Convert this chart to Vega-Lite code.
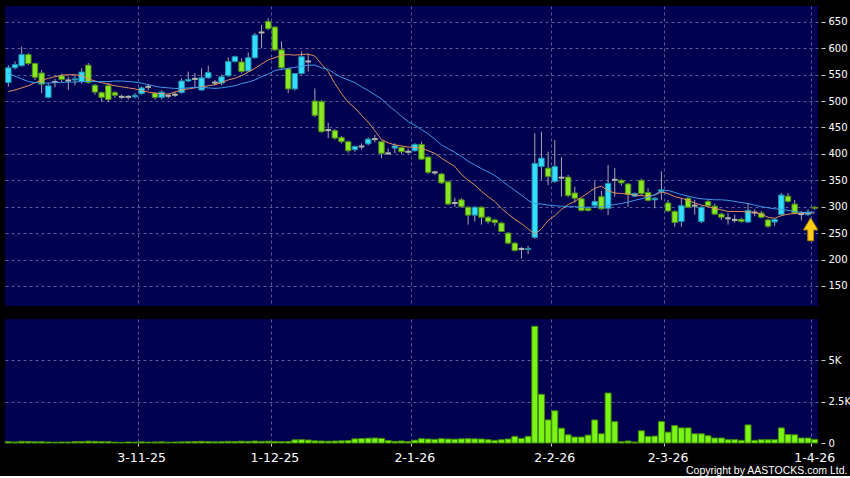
{
  "$schema": "https://vega.github.io/schema/vega-lite/v6.json",
  "background": "#000000",
  "padding": {"left": 4, "top": 6, "right": 0, "bottom": 0},
  "spacing": 13,
  "title": {"text": "Copyright by AASTOCKS.com Ltd.", "orient": "bottom", "anchor": "end", "color": "#ffffff", "fontSize": 10.5, "font": "Liberation Sans", "fontWeight": "normal", "offset": 2, "dx": -3},
  "config": {
    "view": {"fill": "#000050", "stroke": null},
    "axis": {"labelFont": "DejaVu Sans", "labelColor": "#ffffff", "tickColor": "#d0d0d0", "gridColor": "#5c5c98", "gridDash": [3, 3], "gridWidth": 1, "domain": false, "labelOverlap": false}
  },
  "data": {"values": [
    {"date":"2-10-25","open":535,"high":568,"low":527,"close":563,"volume":80,"ma10":518,"ma20":553},
    {"date":"3-10-25","open":563,"high":575,"low":560,"close":569,"volume":60,"ma10":521,"ma20":547},
    {"date":"6-10-25","open":567,"high":603,"low":565,"close":588,"volume":100,"ma10":525,"ma20":542},
    {"date":"8-10-25","open":588,"high":591,"low":568,"close":571,"volume":90,"ma10":529,"ma20":537},
    {"date":"9-10-25","open":571,"high":573,"low":540,"close":545,"volume":70,"ma10":535,"ma20":535},
    {"date":"10-10-25","open":553,"high":559,"low":515,"close":532,"volume":80,"ma10":539,"ma20":534},
    {"date":"13-10-25","open":507,"high":534,"low":505,"close":529,"volume":60,"ma10":543,"ma20":534},
    {"date":"14-10-25","open":536,"high":542,"low":526,"close":536,"volume":50,"ma10":546,"ma20":535},
    {"date":"15-10-25","open":548,"high":552,"low":536,"close":541,"volume":60,"ma10":549,"ma20":535},
    {"date":"16-10-25","open":539,"high":546,"low":521,"close":539,"volume":60,"ma10":550,"ma20":536},
    {"date":"17-10-25","open":540,"high":549,"low":530,"close":542,"volume":80,"ma10":550,"ma20":536},
    {"date":"20-10-25","open":537,"high":562,"low":533,"close":555,"volume":90,"ma10":548,"ma20":537},
    {"date":"21-10-25","open":568,"high":572,"low":533,"close":535,"volume":110,"ma10":542,"ma20":537},
    {"date":"22-10-25","open":530,"high":532,"low":512,"close":517,"volume":100,"ma10":538,"ma20":537},
    {"date":"23-10-25","open":516,"high":518,"low":499,"close":507,"volume":90,"ma10":535,"ma20":537},
    {"date":"24-10-25","open":529,"high":534,"low":498,"close":503,"volume":80,"ma10":532,"ma20":537},
    {"date":"27-10-25","open":516,"high":519,"low":506,"close":511,"volume":50,"ma10":529,"ma20":538},
    {"date":"28-10-25","open":508,"high":512,"low":504,"close":508,"volume":40,"ma10":527,"ma20":538},
    {"date":"30-10-25","open":508,"high":511,"low":503,"close":508,"volume":60,"ma10":525,"ma20":537},
    {"date":"31-10-25","open":508,"high":515,"low":505,"close":511,"volume":50,"ma10":523,"ma20":536},
    {"date":"3-11-25","open":514,"high":528,"low":512,"close":525,"volume":70,"ma10":520,"ma20":534},
    {"date":"4-11-25","open":527,"high":532,"low":520,"close":527,"volume":50,"ma10":517,"ma20":531},
    {"date":"5-11-25","open":515,"high":517,"low":503,"close":507,"volume":60,"ma10":515,"ma20":528},
    {"date":"6-11-25","open":507,"high":520,"low":503,"close":517,"volume":70,"ma10":514,"ma20":526},
    {"date":"7-11-25","open":510,"high":514,"low":505,"close":510,"volume":50,"ma10":513,"ma20":525},
    {"date":"10-11-25","open":512,"high":518,"low":508,"close":512,"volume":60,"ma10":517,"ma20":524},
    {"date":"11-11-25","open":516,"high":543,"low":514,"close":538,"volume":70,"ma10":521,"ma20":524},
    {"date":"12-11-25","open":538,"high":556,"low":536,"close":541,"volume":80,"ma10":523,"ma20":525},
    {"date":"13-11-25","open":542,"high":553,"low":525,"close":542,"volume":90,"ma10":525,"ma20":526},
    {"date":"14-11-25","open":521,"high":562,"low":519,"close":544,"volume":100,"ma10":527,"ma20":526},
    {"date":"17-11-25","open":544,"high":567,"low":542,"close":554,"volume":90,"ma10":529,"ma20":525},
    {"date":"18-11-25","open":535,"high":540,"low":530,"close":535,"volume":70,"ma10":531,"ma20":524},
    {"date":"19-11-25","open":534,"high":550,"low":530,"close":546,"volume":80,"ma10":535,"ma20":525},
    {"date":"20-11-25","open":548,"high":583,"low":546,"close":575,"volume":100,"ma10":540,"ma20":527},
    {"date":"21-11-25","open":575,"high":586,"low":573,"close":584,"volume":90,"ma10":543,"ma20":529},
    {"date":"24-11-25","open":574,"high":581,"low":553,"close":556,"volume":110,"ma10":548,"ma20":533},
    {"date":"25-11-25","open":557,"high":592,"low":555,"close":582,"volume":100,"ma10":555,"ma20":536},
    {"date":"26-11-25","open":582,"high":629,"low":580,"close":625,"volume":120,"ma10":562,"ma20":540},
    {"date":"27-11-25","open":630,"high":644,"low":600,"close":630,"volume":100,"ma10":570,"ma20":546},
    {"date":"28-11-25","open":651,"high":657,"low":634,"close":637,"volume":110,"ma10":578,"ma20":551},
    {"date":"1-12-25","open":640,"high":642,"low":595,"close":597,"volume":90,"ma10":582,"ma20":558},
    {"date":"2-12-25","open":597,"high":613,"low":560,"close":563,"volume":80,"ma10":587,"ma20":560},
    {"date":"3-12-25","open":561,"high":563,"low":515,"close":523,"volume":90,"ma10":588,"ma20":562},
    {"date":"4-12-25","open":523,"high":553,"low":520,"close":552,"volume":190,"ma10":587,"ma20":564},
    {"date":"5-12-25","open":552,"high":594,"low":550,"close":584,"volume":200,"ma10":588,"ma20":566},
    {"date":"8-12-25","open":575,"high":590,"low":556,"close":575,"volume":180,"ma10":589,"ma20":568},
    {"date":"9-12-25","open":500,"high":524,"low":470,"close":473,"volume":130,"ma10":585,"ma20":568},
    {"date":"10-12-25","open":499,"high":502,"low":440,"close":442,"volume":120,"ma10":570,"ma20":563},
    {"date":"11-12-25","open":445,"high":459,"low":430,"close":445,"volume":110,"ma10":556,"ma20":560},
    {"date":"12-12-25","open":444,"high":447,"low":427,"close":430,"volume":120,"ma10":533,"ma20":552},
    {"date":"15-12-25","open":431,"high":434,"low":420,"close":423,"volume":130,"ma10":514,"ma20":545},
    {"date":"16-12-25","open":423,"high":425,"low":402,"close":406,"volume":150,"ma10":498,"ma20":540},
    {"date":"17-12-25","open":408,"high":416,"low":404,"close":414,"volume":250,"ma10":487,"ma20":535},
    {"date":"18-12-25","open":414,"high":420,"low":408,"close":414,"volume":270,"ma10":473,"ma20":527},
    {"date":"19-12-25","open":419,"high":431,"low":416,"close":428,"volume":290,"ma10":460,"ma20":520},
    {"date":"22-12-25","open":428,"high":436,"low":422,"close":428,"volume":300,"ma10":444,"ma20":512},
    {"date":"23-12-25","open":423,"high":425,"low":392,"close":401,"volume":280,"ma10":427,"ma20":504},
    {"date":"24-12-25","open":401,"high":410,"low":398,"close":401,"volume":150,"ma10":421,"ma20":492},
    {"date":"29-12-25","open":411,"high":420,"low":401,"close":415,"volume":100,"ma10":417,"ma20":482},
    {"date":"30-12-25","open":412,"high":414,"low":400,"close":404,"volume":120,"ma10":415,"ma20":471},
    {"date":"31-12-25","open":404,"high":410,"low":400,"close":404,"volume":90,"ma10":413,"ma20":461},
    {"date":"2-1-26","open":406,"high":420,"low":404,"close":418,"volume":170,"ma10":412,"ma20":454},
    {"date":"5-1-26","open":418,"high":423,"low":388,"close":390,"volume":260,"ma10":411,"ma20":446},
    {"date":"6-1-26","open":394,"high":396,"low":362,"close":365,"volume":240,"ma10":406,"ma20":438},
    {"date":"7-1-26","open":365,"high":368,"low":360,"close":365,"volume":220,"ma10":401,"ma20":428},
    {"date":"8-1-26","open":362,"high":364,"low":343,"close":345,"volume":260,"ma10":392,"ma20":417},
    {"date":"9-1-26","open":347,"high":349,"low":303,"close":305,"volume":240,"ma10":384,"ma20":410},
    {"date":"12-1-26","open":307,"high":317,"low":300,"close":307,"volume":230,"ma10":376,"ma20":403},
    {"date":"13-1-26","open":313,"high":316,"low":298,"close":300,"volume":250,"ma10":361,"ma20":395},
    {"date":"14-1-26","open":299,"high":301,"low":266,"close":284,"volume":260,"ma10":350,"ma20":386},
    {"date":"15-1-26","open":284,"high":301,"low":272,"close":299,"volume":250,"ma10":341,"ma20":379},
    {"date":"16-1-26","open":299,"high":301,"low":266,"close":280,"volume":240,"ma10":329,"ma20":372},
    {"date":"19-1-26","open":280,"high":282,"low":268,"close":272,"volume":200,"ma10":319,"ma20":366},
    {"date":"20-1-26","open":275,"high":277,"low":264,"close":270,"volume":160,"ma10":310,"ma20":359},
    {"date":"21-1-26","open":269,"high":271,"low":252,"close":253,"volume":200,"ma10":297,"ma20":350},
    {"date":"22-1-26","open":250,"high":252,"low":229,"close":231,"volume":240,"ma10":286,"ma20":340},
    {"date":"23-1-26","open":231,"high":233,"low":215,"close":217,"volume":400,"ma10":276,"ma20":331},
    {"date":"26-1-26","open":220,"high":224,"low":202,"close":220,"volume":280,"ma10":268,"ma20":322},
    {"date":"27-1-26","open":219,"high":226,"low":210,"close":221,"volume":400,"ma10":258,"ma20":312},
    {"date":"28-1-26","open":242,"high":439,"low":239,"close":382,"volume":7030,"ma10":248,"ma20":306},
    {"date":"29-1-26","open":376,"high":442,"low":351,"close":392,"volume":2935,"ma10":258,"ma20":305},
    {"date":"30-1-26","open":373,"high":404,"low":341,"close":357,"volume":1390,"ma10":274,"ma20":303},
    {"date":"2-2-26","open":348,"high":426,"low":345,"close":376,"volume":1940,"ma10":283,"ma20":302},
    {"date":"3-2-26","open":355,"high":394,"low":319,"close":355,"volume":890,"ma10":295,"ma20":301},
    {"date":"4-2-26","open":356,"high":360,"low":318,"close":321,"volume":495,"ma10":304,"ma20":300},
    {"date":"5-2-26","open":326,"high":338,"low":308,"close":316,"volume":360,"ma10":310,"ma20":300},
    {"date":"6-2-26","open":315,"high":317,"low":291,"close":293,"volume":360,"ma10":318,"ma20":299},
    {"date":"9-2-26","open":297,"high":300,"low":291,"close":293,"volume":475,"ma10":326,"ma20":299},
    {"date":"10-2-26","open":302,"high":348,"low":298,"close":310,"volume":1390,"ma10":335,"ma20":299},
    {"date":"11-2-26","open":319,"high":330,"low":294,"close":296,"volume":555,"ma10":339,"ma20":300},
    {"date":"12-2-26","open":297,"high":379,"low":284,"close":344,"volume":3010,"ma10":330,"ma20":302},
    {"date":"13-2-26","open":351,"high":373,"low":319,"close":351,"volume":1285,"ma10":326,"ma20":304},
    {"date":"16-2-26","open":350,"high":352,"low":340,"close":345,"volume":80,"ma10":325,"ma20":306},
    {"date":"20-2-26","open":343,"high":345,"low":300,"close":323,"volume":120,"ma10":324,"ma20":309},
    {"date":"23-2-26","open":320,"high":327,"low":318,"close":325,"volume":60,"ma10":322,"ma20":312},
    {"date":"24-2-26","open":350,"high":353,"low":322,"close":325,"volume":735,"ma10":321,"ma20":315},
    {"date":"25-2-26","open":327,"high":335,"low":310,"close":312,"volume":400,"ma10":320,"ma20":318},
    {"date":"26-2-26","open":313,"high":318,"low":297,"close":316,"volume":415,"ma10":322,"ma20":323},
    {"date":"27-2-26","open":329,"high":367,"low":313,"close":332,"volume":1290,"ma10":328,"ma20":330},
    {"date":"2-3-26","open":307,"high":313,"low":290,"close":292,"volume":655,"ma10":325,"ma20":331},
    {"date":"3-3-26","open":291,"high":293,"low":262,"close":270,"volume":1050,"ma10":319,"ma20":327},
    {"date":"4-3-26","open":272,"high":316,"low":262,"close":302,"volume":910,"ma10":316,"ma20":323},
    {"date":"5-3-26","open":316,"high":318,"low":297,"close":299,"volume":910,"ma10":312,"ma20":320},
    {"date":"6-3-26","open":302,"high":313,"low":285,"close":302,"volume":555,"ma10":307,"ma20":317},
    {"date":"9-3-26","open":272,"high":301,"low":269,"close":299,"volume":555,"ma10":303,"ma20":315},
    {"date":"10-3-26","open":310,"high":314,"low":300,"close":302,"volume":435,"ma10":300,"ma20":314},
    {"date":"11-3-26","open":301,"high":306,"low":284,"close":286,"volume":300,"ma10":297,"ma20":313},
    {"date":"12-3-26","open":286,"high":288,"low":275,"close":280,"volume":300,"ma10":294,"ma20":313},
    {"date":"13-3-26","open":278,"high":288,"low":266,"close":278,"volume":200,"ma10":291,"ma20":312},
    {"date":"16-3-26","open":275,"high":285,"low":270,"close":275,"volume":200,"ma10":291,"ma20":310},
    {"date":"17-3-26","open":276,"high":279,"low":270,"close":272,"volume":160,"ma10":291,"ma20":308},
    {"date":"18-3-26","open":271,"high":306,"low":269,"close":293,"volume":1090,"ma10":290,"ma20":306},
    {"date":"19-3-26","open":289,"high":295,"low":282,"close":289,"volume":160,"ma10":289,"ma20":303},
    {"date":"20-3-26","open":288,"high":292,"low":278,"close":280,"volume":200,"ma10":286,"ma20":300},
    {"date":"23-3-26","open":275,"high":277,"low":260,"close":263,"volume":200,"ma10":280,"ma20":298},
    {"date":"24-3-26","open":271,"high":278,"low":264,"close":276,"volume":200,"ma10":278,"ma20":296},
    {"date":"25-3-26","open":285,"high":326,"low":283,"close":322,"volume":910,"ma10":283,"ma20":295},
    {"date":"26-3-26","open":320,"high":326,"low":308,"close":310,"volume":515,"ma10":286,"ma20":293},
    {"date":"27-3-26","open":305,"high":313,"low":286,"close":288,"volume":495,"ma10":287,"ma20":291},
    {"date":"30-3-26","open":286,"high":292,"low":274,"close":286,"volume":300,"ma10":288,"ma20":289},
    {"date":"31-3-26","open":285,"high":295,"low":283,"close":290,"volume":300,"ma10":288,"ma20":289},
    {"date":"1-4-26","open":299,"high":301,"low":294,"close":297,"volume":220,"ma10":288,"ma20":290,"arrow":256}
  ]},
  "vconcat": [
    {
      "width": 813,
      "height": 300,
      "encoding": {
        "x": {"field": "date", "type": "ordinal", "sort": null, "title": null,
          "scale": {"paddingInner": 0, "paddingOuter": 0},
          "axis": {"labels": false, "ticks": false, "grid": true, "bandPosition": 0,
            "values": ["3-11-25", "1-12-25", "2-1-26", "2-2-26", "2-3-26", "1-4-26"]}}
      },
      "layer": [
        {
          "mark": {"type": "rule", "color": "#a8a8a8", "strokeWidth": 1},
          "encoding": {
            "y": {"field": "low", "type": "quantitative", "title": null,
              "scale": {"domain": [112, 680], "nice": false, "zero": false},
              "axis": {"orient": "right", "values": [150, 200, 250, 300, 350, 400, 450, 500, 550, 600, 650], "tickCount": 20,
                "grid": true, "tickSize": 4, "offset": 3, "labelPadding": 3, "labelFontSize": 10, "labelOverlap": false}},
            "y2": {"field": "high"}
          }
        },
        {
          "mark": {"type": "bar", "width": {"band": 0.82}, "strokeWidth": 1},
          "encoding": {
            "y": {"field": "open", "type": "quantitative", "title": null},
            "y2": {"field": "close"},
            "fill": {"condition": {"test": "datum.close > datum.open", "value": "#33ddff"}, "value": "#88e825"},
            "stroke": {"condition": {"test": "datum.close > datum.open", "value": "#1f8fa6"}, "value": "#4f8a14"}
          }
        },
        {
          "mark": {"type": "tick", "thickness": 2, "size": 5.5, "color": "#b4b4b4"},
          "encoding": {
            "y": {"field": "close", "type": "quantitative", "title": null},
            "opacity": {"condition": {"test": "datum.open == datum.close", "value": 1}, "value": 0}
          }
        },
        {
          "mark": {"type": "line", "color": "#e58f5c", "strokeWidth": 1},
          "encoding": {"y": {"field": "ma10", "type": "quantitative", "title": null}}
        },
        {
          "mark": {"type": "line", "color": "#3a9be8", "strokeWidth": 1},
          "encoding": {"y": {"field": "ma20", "type": "quantitative", "title": null}}
        },
        {
          "mark": {"type": "point", "shape": "M0,-1L0.6,0L0.24,0L0.24,0.9L-0.24,0.9L-0.24,0L-0.6,0Z", "filled": true, "size": 576, "color": "#ffcc1a", "stroke": "#b88a00", "strokeWidth": 1, "opacity": 1, "xOffset": -4},
          "encoding": {"y": {"field": "arrow", "type": "quantitative", "title": null}}
        }
      ]
    },
    {
      "width": 813,
      "height": 124,
      "mark": {"type": "bar", "width": {"band": 0.9}, "fill": "#7cf516", "stroke": "#3e8c05", "strokeWidth": 1},
      "encoding": {
        "x": {"field": "date", "type": "ordinal", "sort": null, "title": null,
          "scale": {"paddingInner": 0, "paddingOuter": 0},
          "axis": {"grid": true, "bandPosition": 0, "tickSize": 3, "labelAngle": 0, "labelFontSize": 12.5, "labelPadding": 5,
            "values": ["3-11-25", "1-12-25", "2-1-26", "2-2-26", "2-3-26", "1-4-26"]}},
        "y": {"field": "volume", "type": "quantitative", "title": null,
          "scale": {"domain": [0, 7470], "nice": false},
          "axis": {"orient": "right", "values": [0, 2500, 5000], "tickCount": 10, "grid": true, "tickSize": 4, "offset": 3, "labelPadding": 3, "labelFontSize": 10,
            "gridOpacity": {"condition": {"test": "datum.value == 0", "value": 0}, "value": 1},
            "labelExpr": "datum.value == 0 ? '0' : datum.value == 2500 ? '2.5K' : '5K'"}}
      }
    }
  ]
}
